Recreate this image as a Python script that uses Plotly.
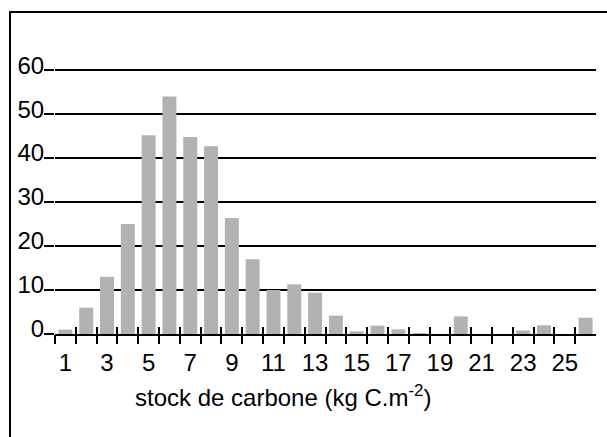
import plotly.graph_objects as go

# Data
categories = list(range(1, 27))
values = [1, 6, 13, 25, 45.2, 54, 44.8, 42.7, 26.4, 17, 10, 11.3, 9.4, 4.2,
          0.6, 1.9, 1.05, 0.2, 0, 4, 0, 0, 0.8, 2, 0, 3.7]
xtick_vals = list(range(1, 26, 2))
xtick_text = [str(v) for v in xtick_vals]
ytick_vals = [0, 10, 20, 30, 40, 50, 60]
ytick_text = [str(v) for v in ytick_vals]
boundaries = [c + 0.5 for c in range(0, 26)]
x_title = "stock de carbone (kg C.m<sup>-2</sup>)"

FONT = "Liberation Sans, Arial, sans-serif"
FS = 24

fig = go.Figure()
fig.add_trace(go.Bar(x=categories, y=values, marker=dict(color="#b2b2b2", line=dict(width=0)),
                     showlegend=False))
# empty helper traces so overlay axes render
fig.add_trace(go.Scatter(x=[None], y=[None], xaxis="x2", yaxis="y", showlegend=False, hoverinfo="skip"))
fig.add_trace(go.Scatter(x=[None], y=[None], xaxis="x3", yaxis="y", showlegend=False, hoverinfo="skip"))
fig.add_trace(go.Scatter(x=[None], y=[None], xaxis="x", yaxis="y2", showlegend=False, hoverinfo="skip"))

XR = [0.5, 26.5]
YR = [0, 63]
SHIFT = 1.15

fig.update_layout(
    width=607, height=437,
    margin=dict(l=55, r=11, t=57, b=103),
    paper_bgcolor="white", plot_bgcolor="white",
    bargap=0.33,
    font=dict(family=FONT, size=FS, color="black"),
    xaxis=dict(range=XR, tickmode="array", tickvals=xtick_vals, ticktext=xtick_text,
               ticks="outside", ticklen=6, tickcolor="rgba(0,0,0,0)",
               showgrid=False, zeroline=False, showline=True, linecolor="black", linewidth=1.5,
               tickfont=dict(family=FONT, size=FS, color="black")),
    xaxis2=dict(range=XR, overlaying="x", anchor="y", tickmode="array", tickvals=boundaries,
                ticks="outside", ticklen=9, tickwidth=1.8, tickcolor="black",
                showticklabels=False, showgrid=False, zeroline=False, showline=False),
    xaxis3=dict(range=XR, overlaying="x", anchor="y", tickmode="array", tickvals=boundaries,
                ticks="inside", ticklen=7, tickwidth=1.8, tickcolor="black",
                showticklabels=False, showgrid=False, zeroline=False, showline=False),
    yaxis=dict(range=YR, tickmode="array", tickvals=ytick_vals, showticklabels=False,
               ticks="outside", ticklen=10, tickwidth=1.5, tickcolor="black",
               showgrid=True, gridcolor="black", gridwidth=1.5, zeroline=False, showline=False),
    yaxis2=dict(range=[YR[0] - SHIFT, YR[1] - SHIFT], overlaying="y", anchor="x", side="left",
                tickmode="array", tickvals=ytick_vals, ticktext=ytick_text,
                ticks="outside", ticklen=5, tickcolor="rgba(0,0,0,0)",
                showgrid=False, zeroline=False, showline=False,
                tickfont=dict(family=FONT, size=FS, color="black")),
    annotations=[dict(text=x_title, xref="paper", yref="paper", x=0.4214, y=-0.225,
                      xanchor="center", yanchor="middle", showarrow=False,
                      font=dict(family=FONT, size=FS, color="black"))],
    shapes=[dict(type="rect", xref="paper", yref="paper", x0=-0.0832, x1=1.1, y0=-0.6, y1=1.1625,
                 line=dict(color="black", width=2), fillcolor="rgba(0,0,0,0)", layer="below")],
)

fig.write_html("out.html")
